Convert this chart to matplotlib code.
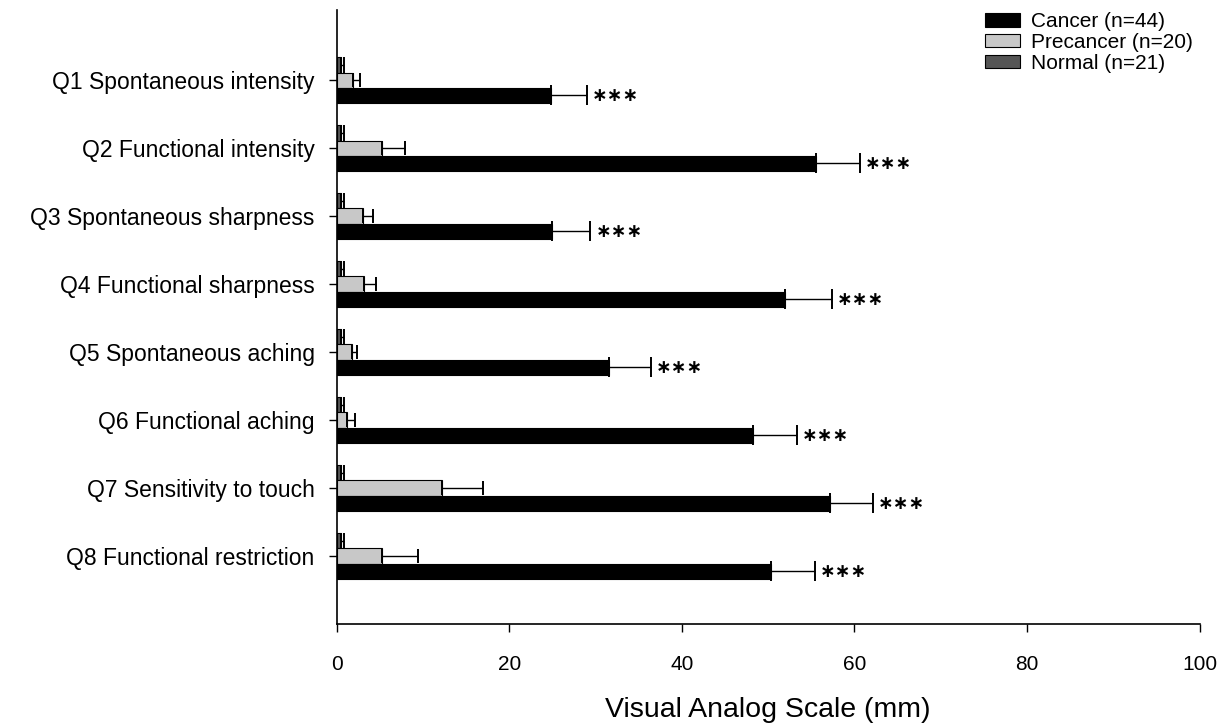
import matplotlib.pyplot as plt
import numpy as np

plt.rcParams["font.family"] = ["Liberation Sans", "DejaVu Sans"]

questions = [
    "Q1 Spontaneous intensity",
    "Q2 Functional intensity",
    "Q3 Spontaneous sharpness",
    "Q4 Functional sharpness",
    "Q5 Spontaneous aching",
    "Q6 Functional aching",
    "Q7 Sensitivity to touch",
    "Q8 Functional restriction",
]
cancer = [24.8, 55.6, 24.9, 52.0, 31.6, 48.2, 57.2, 50.3]
cancer_err = [4.2, 5.0, 4.5, 5.4, 4.8, 5.1, 4.9, 5.1]
precancer = [1.9, 5.2, 3.0, 3.2, 1.8, 1.2, 12.2, 5.3]
precancer_err = [0.8, 2.7, 1.2, 1.4, 0.5, 0.9, 4.7, 4.1]
normal = [0.5, 0.5, 0.5, 0.5, 0.5, 0.5, 0.5, 0.5]
normal_err = [0.3, 0.3, 0.3, 0.3, 0.3, 0.3, 0.3, 0.3]
stars = ["\u2217\u2217\u2217"] * 8

fig = plt.figure(figsize=(12.29, 7.24), dpi=100)
ax = fig.add_axes([0.274, 0.138, 0.702, 0.848])

y = np.arange(len(questions))
h = 0.225

groups = [
    (normal, normal_err, "#555555", "Normal (n=21)", -h, 6),
    (precancer, precancer_err, "#c8c8c8", "Precancer (n=20)", 0, 5),
    (cancer, cancer_err, "black", "Cancer (n=44)", h, 7.5),
]
handles = {}
for vals, errs, color, label, off, cap in groups:
    b = ax.barh(y + off, vals, height=h, color=color, edgecolor="black",
                linewidth=0.8, label=label)
    handles[label] = b
    ax.errorbar(vals, y + off, xerr=[np.zeros(len(vals)), errs], fmt="none",
                ecolor="black", elinewidth=1.0, capsize=cap, capthick=1.4)

for yi, v, e, s in zip(y, cancer, cancer_err, stars):
    ax.text(v + e + 0.6, yi + h, s, ha="left", va="center",
            fontsize=13.5, fontweight="bold", family="DejaVu Sans")

ax.set_xlim(0, 100)
ax.set_ylim(8.0, -1.03)
ax.set_yticks(y)
ax.set_yticklabels(questions, fontsize=16.5)
ax.set_xticks([0, 20, 40, 60, 80, 100])
ax.tick_params(axis="x", labelsize=15, length=6, width=1, pad=16)
ax.tick_params(axis="y", length=6, width=1, pad=10)
ax.spines["top"].set_visible(False)
ax.spines["right"].set_visible(False)
ax.spines["left"].set_linewidth(1.2)
ax.spines["bottom"].set_linewidth(1.2)
ax.set_xlabel("Visual Analog Scale (mm)", fontsize=20.5, labelpad=17)

order = ["Cancer (n=44)", "Precancer (n=20)", "Normal (n=21)"]
ax.legend([handles[k] for k in order], order, loc="upper left",
          bbox_to_anchor=(0.7415, 1.01), frameon=False, fontsize=15,
          handlelength=1.7, handleheight=0.6, labelspacing=0.08,
          handletextpad=0.5, borderaxespad=0)

fig.savefig("out.png", dpi=100)
